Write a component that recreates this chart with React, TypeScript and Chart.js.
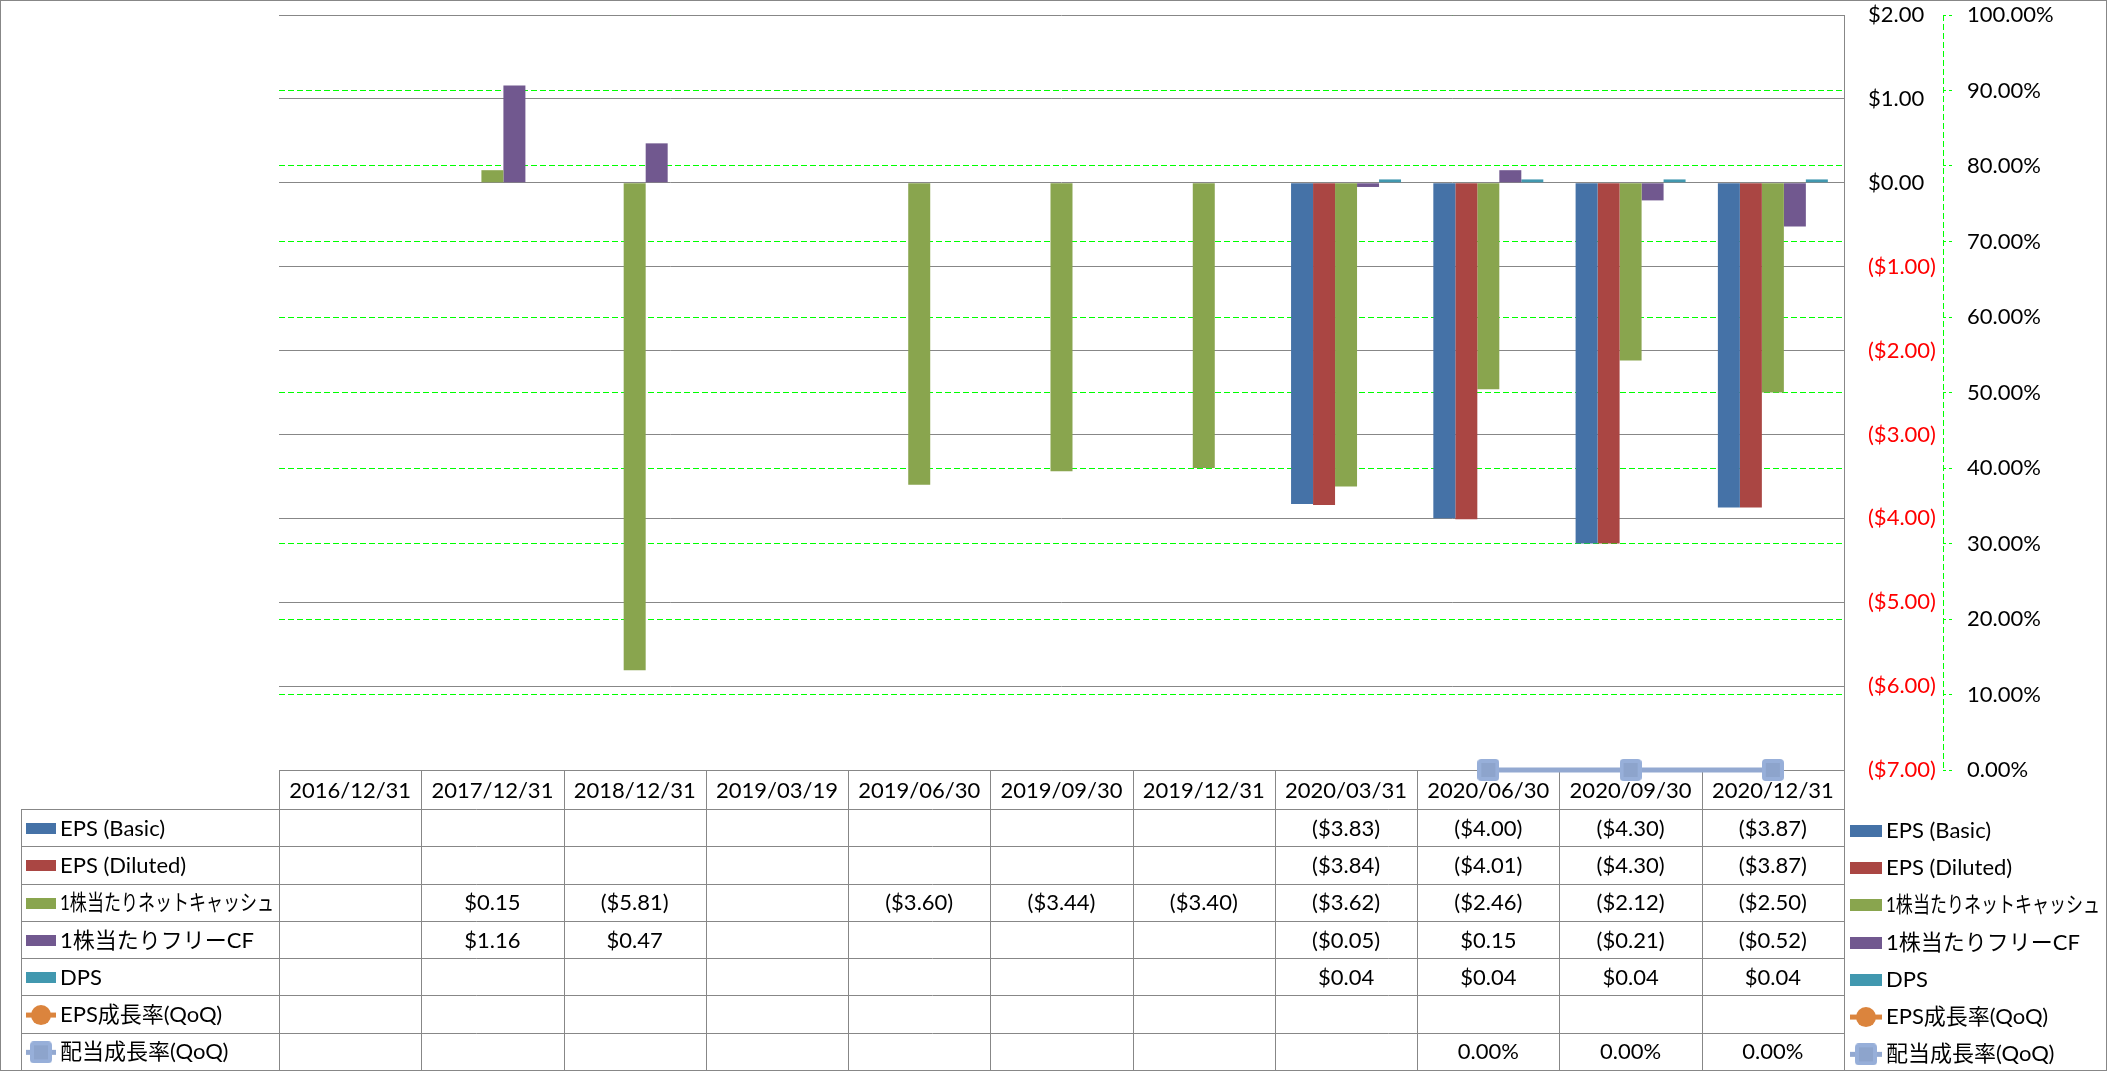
import React, { useEffect, useRef } from 'react';
import { Chart, registerables } from 'chart.js';

Chart.register(...registerables);

// ---------- data ----------
const categories = [
  '2016/12/31', '2017/12/31', '2018/12/31', '2019/03/19', '2019/06/30', '2019/09/30',
  '2019/12/31', '2020/03/31', '2020/06/30', '2020/09/30', '2020/12/31',
];
const epsBasic = [null, null, null, null, null, null, null, -3.83, -4.0, -4.3, -3.87];
const epsDiluted = [null, null, null, null, null, null, null, -3.84, -4.01, -4.3, -3.87];
const netCashPerShare = [null, 0.15, -5.81, null, -3.6, -3.44, -3.4, -3.62, -2.46, -2.12, -2.5];
const fcfPerShare = [null, 1.16, 0.47, null, null, null, null, -0.05, 0.15, -0.21, -0.52];
const dps = [null, null, null, null, null, null, null, 0.04, 0.04, 0.04, 0.04];
const epsGrowth = [null, null, null, null, null, null, null, null, null, null, null];
const dividendGrowth = [null, null, null, null, null, null, null, null, 0, 0, 0];

const dollarMin = -7;
const dollarMax = 2;
const dollarStep = 1;
const pctMin = 0;
const pctMax = 1;
const pctStep = 0.1;

// ---------- styles ----------
const FONT_FAMILY = 'Lato, "Noto Sans CJK JP", sans-serif';
const FONT = `22px ${FONT_FAMILY}`;
const GRID_GREY = '#878787';
const GREEN = '#00FF00';
const LABEL_MAX_W = 214;

const fmtDollar = (v: number | null) =>
  v == null ? '' : v < 0 ? `($${(-v).toFixed(2)})` : `$${v.toFixed(2)}`;
const fmtPct = (v: number | null) => (v == null ? '' : `${(v * 100).toFixed(2)}%`);

type Series = {
  name: string;
  data: (number | null)[];
  color: string;
  kind: 'bar' | 'circle' | 'square';
  fmt: (v: number | null) => string;
};

const seriesList: Series[] = [
  { name: 'EPS (Basic)', data: epsBasic, color: '#4572A7', kind: 'bar', fmt: fmtDollar },
  { name: 'EPS (Diluted)', data: epsDiluted, color: '#AA4643', kind: 'bar', fmt: fmtDollar },
  { name: '1株当たりネットキャッシュ', data: netCashPerShare, color: '#89A54E', kind: 'bar', fmt: fmtDollar },
  { name: '1株当たりフリーCF', data: fcfPerShare, color: '#71588F', kind: 'bar', fmt: fmtDollar },
  { name: 'DPS', data: dps, color: '#4198AF', kind: 'bar', fmt: fmtDollar },
  { name: 'EPS成長率(QoQ)', data: epsGrowth, color: '#DB843D', kind: 'circle', fmt: fmtPct },
  { name: '配当成長率(QoQ)', data: dividendGrowth, color: '#93A9D1', kind: 'square', fmt: fmtPct },
];

function makeSquareMarker(size: number): HTMLCanvasElement {
  const c = document.createElement('canvas');
  c.width = size;
  c.height = size;
  const g = c.getContext('2d')!;
  g.fillStyle = '#97AFD9';
  g.beginPath();
  (g as any).roundRect(0, 0, size, size, 4);
  g.fill();
  g.fillStyle = '#8DA4CC';
  g.fillRect(4, 4, size - 8, size - 8);
  return c;
}

function drawIcon(
  ctx: CanvasRenderingContext2D,
  s: Series,
  x: number,
  yc: number,
  w: number,
  h: number,
  square: HTMLCanvasElement
) {
  if (s.kind === 'bar') {
    ctx.fillStyle = s.color;
    ctx.fillRect(x, Math.round(yc - h / 2), w, h);
    return;
  }
  ctx.strokeStyle = s.color;
  ctx.lineWidth = 5;
  ctx.setLineDash([]);
  ctx.beginPath();
  ctx.moveTo(x, yc);
  ctx.lineTo(x + w, yc);
  ctx.stroke();
  const cx = x + w / 2;
  if (s.kind === 'circle') {
    ctx.fillStyle = s.color;
    ctx.beginPath();
    ctx.arc(cx, yc, 10, 0, Math.PI * 2);
    ctx.fill();
  } else {
    ctx.drawImage(square, cx - square.width / 2, yc - square.height / 2);
  }
}

export default function App() {
  const canvasRef = useRef<HTMLCanvasElement | null>(null);

  useEffect(() => {
    const canvas = canvasRef.current;
    if (!canvas) return;
    const square = makeSquareMarker(22);

    const tablePlugin = {
      id: 'dataTable',
      beforeDatasetsDraw(chart: any) {
        const { ctx, chartArea, scales } = chart;
        const L = chartArea.left;
        const R = chartArea.right;
        const n = categories.length;
        const colW = (R - L) / n;
        const headerTop = Math.round(chartArea.bottom);
        const headerBottom = headerTop + 39;
        const tableBottom = chart.height - 1;
        const rowH = (tableBottom - headerBottom) / seriesList.length;
        const legendLeft = 21;

        ctx.save();
        // percent axis dashed line
        const ax = Math.round(scales.y1.left) + 0.5;
        ctx.strokeStyle = GREEN;
        ctx.lineWidth = 1;
        ctx.setLineDash([6, 3]);
        ctx.beginPath();
        ctx.moveTo(ax, chartArea.top);
        ctx.lineTo(ax, chartArea.bottom);
        ctx.stroke();
        ctx.setLineDash([]);

        const line = (x1: number, y1: number, x2: number, y2: number) => {
          ctx.beginPath();
          ctx.moveTo(x1, y1);
          ctx.lineTo(x2, y2);
          ctx.stroke();
        };
        ctx.strokeStyle = GRID_GREY;
        ctx.lineWidth = 1;
        // outer border
        ctx.strokeRect(0.5, 0.5, chart.width - 1, chart.height - 1);
        // header top
        line(L, headerTop + 0.5, R, headerTop + 0.5);
        // row lines
        for (let k = 0; k <= seriesList.length; k++) {
          const y = Math.round(headerBottom + k * rowH) + 0.5;
          line(legendLeft, y, R, y);
        }
        line(legendLeft + 0.5, headerBottom, legendLeft + 0.5, tableBottom);
        for (let i = 0; i <= n; i++) {
          const x = Math.round(L + i * colW) + 0.5;
          line(x, headerTop, x, tableBottom);
        }

        ctx.font = FONT;
        ctx.fillStyle = '#000';
        ctx.textBaseline = 'middle';
        ctx.textAlign = 'center';
        categories.forEach((c, i) => {
          const cx = scales.x.getPixelForValue(i);
          ctx.fillText(c, cx, (headerTop + headerBottom) / 2 + 1);
        });

        seriesList.forEach((s, k) => {
          const yc = headerBottom + (k + 0.5) * rowH + 1;
          // left legend cell
          drawIcon(ctx, s, 26, yc, 30, 11, square);
          ctx.fillStyle = '#000';
          ctx.textAlign = 'left';
          ctx.font = FONT;
          ctx.fillText(s.name, 60, yc, LABEL_MAX_W);
          // right legend
          drawIcon(ctx, s, R + 6, yc + 2, 32, 12, square);
          ctx.fillStyle = '#000';
          ctx.fillText(s.name, R + 42, yc + 2, LABEL_MAX_W);
          // values
          ctx.textAlign = 'center';
          s.data.forEach((v, i) => {
            const t = s.fmt(v);
            if (t) ctx.fillText(t, scales.x.getPixelForValue(i), yc);
          });
        });
        ctx.restore();
      },
    };

    const datasets: any[] = seriesList.map((s) => {
      if (s.kind === 'bar') {
        return {
          type: 'bar',
          label: s.name,
          data: s.data,
          yAxisID: 'y',
          backgroundColor: s.color,
          borderWidth: 0,
          categoryPercentage: 0.773,
          barPercentage: 1.0,
        };
      }
      return {
        type: 'line',
        label: s.name,
        data: s.data,
        yAxisID: 'y1',
        borderColor: s.color,
        backgroundColor: s.color,
        borderWidth: 5,
        pointStyle: s.kind === 'circle' ? 'circle' : square,
        pointRadius: 10,
        clip: false,
        spanGaps: false,
      };
    });

    const fixPadding = (scale: any, w: number) => {
      scale.width = w;
      scale.paddingTop = 0;
      scale.paddingBottom = 0;
    };

    const chart = new Chart(canvas, {
      type: 'bar',
      data: { labels: categories, datasets },
      plugins: [tablePlugin],
      options: {
        animation: false,
        responsive: false,
        maintainAspectRatio: false,
        devicePixelRatio: 1,
        layout: { padding: { left: 279, top: 15, right: 0, bottom: 301 } },
        plugins: { legend: { display: false }, tooltip: { enabled: false }, title: { display: false } },
        scales: {
          x: { type: 'category', display: false, offset: true, grid: { display: false } },
          y: {
            type: 'linear',
            position: 'right',
            min: dollarMin,
            max: dollarMax,
            weight: 0,
            afterFit: (scale: any) => fixPadding(scale, 99),
            ticks: {
              stepSize: dollarStep,
              padding: 24,
              font: { family: FONT_FAMILY, size: 22 },
              color: (c: any) => (c.tick && c.tick.value < 0 ? '#FF0000' : '#000000'),
              callback: (v: any) => fmtDollar(Number(v)),
            },
            grid: { color: GRID_GREY, lineWidth: 1, drawTicks: false, z: 0 },
            border: { display: true, color: GRID_GREY, width: 1 },
          },
          y1: {
            type: 'linear',
            position: 'right',
            min: pctMin,
            max: pctMax,
            weight: 1,
            afterFit: (scale: any) => fixPadding(scale, 164),
            ticks: {
              stepSize: pctStep,
              padding: 15,
              font: { family: FONT_FAMILY, size: 22 },
              color: '#000000',
              callback: (v: any) => fmtPct(Number(v)),
            },
            grid: {
              color: GREEN,
              lineWidth: 1,
              drawTicks: true,
              tickLength: 9,
              tickColor: GREEN,
              tickBorderDash: [3, 3],
              z: -1,
            },
            border: { display: false, dash: [6, 3] },
          },
        },
      } as any,
    });

    return () => chart.destroy();
  }, []);

  return (
    <div style={{ position: 'fixed', left: 0, top: 0, width: 2107, height: 1071, background: '#fff' }}>
      <canvas ref={canvasRef} width={2107} height={1071} style={{ width: 2107, height: 1071, display: 'block' }} />
    </div>
  );
}
